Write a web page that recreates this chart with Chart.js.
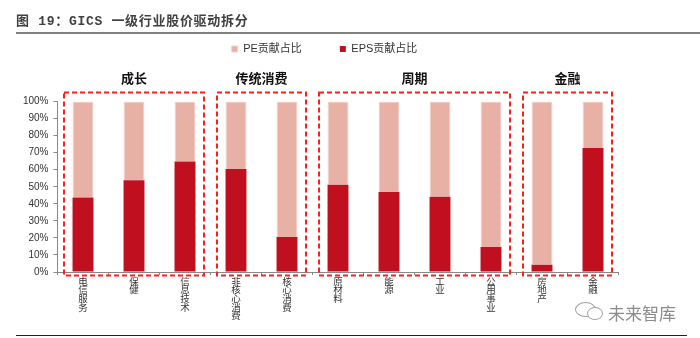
<!DOCTYPE html>
<html lang="zh-CN">
<head>
<meta charset="utf-8">
<title>GICS 一级行业股价驱动拆分</title>
<script src="https://cdn.jsdelivr.net/npm/chart.js@4.4.1/dist/chart.umd.min.js"></script>
<style>
  html, body { margin: 0; padding: 0; background: #fff; }
  #wrap { position: relative; width: 700px; height: 338px; overflow: hidden; }
  #chart { position: absolute; left: 0; top: 0; }
  .title { position: absolute; left: 16px; top: 10px; line-height: 18px; font: bold 13px "Liberation Mono", "Noto Sans CJK SC", sans-serif; color: #404040; letter-spacing: 0.7px; white-space: nowrap; }
  .rule-top { position: absolute; left: 16px; top: 32px; width: 684px; height: 2px; background: #808080; }
  .rule-bottom { position: absolute; left: 16px; top: 335px; width: 671px; height: 1px; background: #222; }
  .mark { position: absolute; left: 608px; top: 300px; line-height: 20px; font: 17px "Noto Sans CJK SC", sans-serif; color: #8c8c8c; white-space: nowrap; }
  .bubble { position: absolute; border: 1px solid #a0a0a0; border-radius: 50%; background: #fff; }
</style>
</head>
<body>
<div id="wrap">
  <canvas id="chart" width="700" height="338"></canvas>
  <div class="title">图 19：GICS 一级行业股价驱动拆分</div>
  <div class="rule-top"></div>
  <div class="bubble" style="left:575px;top:302px;width:19px;height:13px;"></div>
  <div class="bubble" style="left:587px;top:307px;width:14px;height:11px;"></div>
  <div class="mark">未来智库</div>
  <div class="rule-bottom"></div>
</div>
<script>
// industries, left to right
const categories = ["电信服务", "保健", "信息技术", "非核心消费", "核心消费", "原材料", "能源", "工业", "公用事业", "房地产", "金融"];
// share of price move, %
const epsShare = [43.7, 53.8, 64.8, 60.4, 20.5, 51.1, 46.9, 44.2, 14.7, 4.3, 72.8];
const peShare = [56.3, 46.2, 35.2, 39.6, 79.5, 48.9, 53.1, 55.8, 85.3, 95.7, 27.2];
// sector groups (first / last category index)
const groupNames = ["成长", "传统消费", "周期", "金融"];
const groupFirst = [0, 3, 5, 9];
const groupLast = [2, 4, 8, 10];

const fontFamily = "'Liberation Sans', 'Noto Sans CJK SC', sans-serif";

// red dashed frames round each group
const groupFrames = {
    id: "groupFrames",
    afterLayout(chart) {
        // legend sits a little right of the canvas middle
        chart.legend.left += 7.25;
        chart.legend.right += 7.25;
    },
    afterDraw(chart) {
        const { ctx, scales } = chart;
        const x = scales.x, y = scales.y;
        const top = y.getPixelForValue(100) - 9;
        const bottom = y.getPixelForValue(0) + 3.5;
        ctx.save();
        ctx.strokeStyle = "#ff1e1e";
        ctx.lineWidth = 2;
        ctx.setLineDash([5, 3]);
        groupFirst.forEach((first, i) => {
            const left = x.getPixelForValue(first) - 19;
            const right = x.getPixelForValue(groupLast[i]) + 19;
            ctx.strokeRect(left, top, right - left, bottom - top);
        });
        ctx.restore();
    },
};

new Chart(document.getElementById("chart").getContext("2d"), {
    type: "bar",
    data: {
        labels: categories.map((c) => c.split("")),
        datasets: [
            {
                label: "EPS贡献占比",
                data: epsShare,
                backgroundColor: "#c00f1f",
                borderWidth: 0,
            },
            {
                label: "PE贡献占比",
                data: peShare,
                backgroundColor: "#e8b1a6",
                borderColor: "#f3d2cb",
                borderWidth: 1,
            },
        ],
    },
    options: {
        responsive: false,
        animation: false,
        barPercentage: 0.41,
        categoryPercentage: 1,
        layout: { padding: { left: 16, right: 81.5, top: 5.5, bottom: 0 } },
        plugins: {
            tooltip: { enabled: false },
            legend: {
                position: "top",
                reverse: true,
                labels: {
                    boxWidth: 6,
                    boxHeight: 6,
                    padding: 38,
                    color: "#333",
                    font: { size: 11, family: fontFamily },
                },
            },
        },
        scales: {
            x: {
                stacked: true,
                offset: true,
                grid: { offset: true, drawOnChartArea: false, tickLength: 3, color: "#888" },
                border: { color: "#888" },
                ticks: {
                    autoSkip: false,
                    maxRotation: 0,
                    padding: 3,
                    color: "#333",
                    font: { size: 9.5, lineHeight: 0.9, family: fontFamily },
                },
                afterFit: (axis) => { axis.height = 66; },
            },
            groups: {
                type: "linear",
                position: "top",
                offset: false,
                min: -0.5,
                max: categories.length - 0.5,
                grid: { display: false, drawTicks: false },
                border: { display: false },
                afterBuildTicks: (axis) => {
                    axis.ticks = groupFirst.map((first, i) => ({ value: (first + groupLast[i]) / 2 }));
                },
                afterFit: (axis) => { axis.height = 37; },
                ticks: {
                    autoSkip: false,
                    maxRotation: 0,
                    padding: 16,
                    color: "#111",
                    font: { size: 13, weight: "bold", family: "'Noto Sans CJK SC', sans-serif" },
                    callback: (value, index) => groupNames[index],
                },
            },
            y: {
                stacked: true,
                min: 0,
                max: 100,
                border: { color: "#888" },
                grid: { drawOnChartArea: false, tickLength: 4, color: "#888" },
                ticks: {
                    stepSize: 10,
                    padding: 5,
                    color: "#333",
                    font: { size: 10, family: fontFamily },
                    callback: (v) => v + "%",
                },
                afterFit: (axis) => { axis.width = 41.5; },
            },
        },
    },
    plugins: [groupFrames],
});
</script>
</body>
</html>
